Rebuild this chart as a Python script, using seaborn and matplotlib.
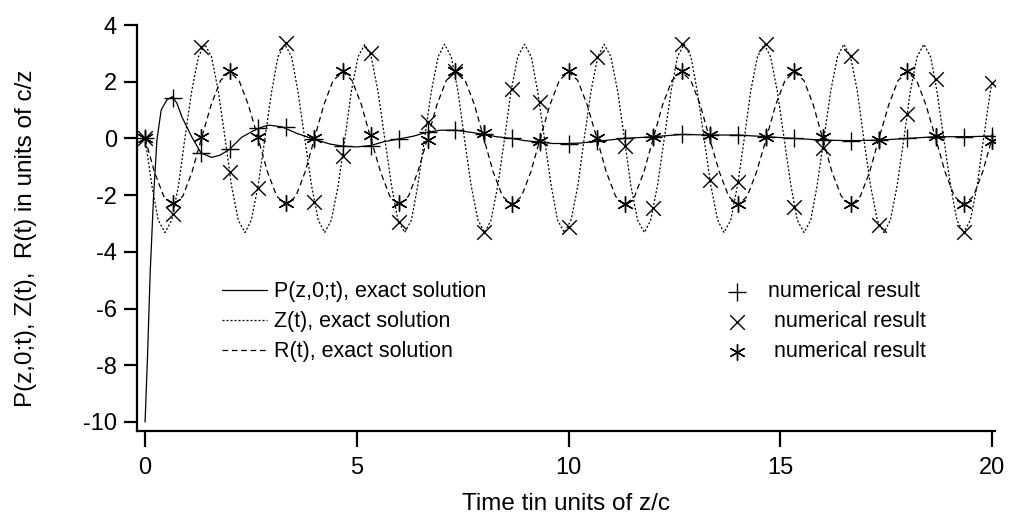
import matplotlib
matplotlib.use("Agg")
import matplotlib.pyplot as plt
import seaborn as sns

# exact P(z,0;t)
P_T = [0.0, 0.06, 0.12, 0.2, 0.28, 0.38, 0.51, 0.64, 0.75, 0.87, 1.1, 1.32, 1.57, 1.77, 1.99,
       2.28, 2.66, 2.91, 3.23, 3.58, 3.97, 4.37, 4.66, 5.0, 5.33, 5.63, 5.99, 6.34, 6.61, 6.97,
       7.33, 7.63, 7.99, 8.3, 8.66, 8.97, 9.34, 9.64, 10.0, 10.31, 10.67, 11.33, 12.0, 12.67,
       13.33, 14.0, 14.67, 15.33, 16.0, 16.67, 17.33, 18.0, 18.67, 19.33, 20.0]
P_V = [-10.0, -7.6, -4.76, -2.06, -0.06, 1.0, 1.35, 1.47, 1.25, 0.76, 0.06, -0.51, -0.67, -0.59, -0.39,
       0.04, 0.35, 0.47, 0.41, 0.18, -0.02, -0.2, -0.27, -0.3, -0.25, -0.12, -0.02, 0.08, 0.2, 0.29,
       0.29, 0.23, 0.15, 0.06, 0.0, -0.08, -0.13, -0.18, -0.18, -0.16, -0.1, 0.0, 0.06, 0.14,
       0.12, 0.12, 0.06, 0.0, -0.06, -0.08, -0.06, 0.0, 0.06, 0.06, 0.08]

# exact Z(t), dotted curve
Z_T = [0.00, 0.16, 0.31, 0.47, 0.63, 0.79, 0.94, 1.10, 1.26, 1.41, 1.57, 1.73,
       1.89, 2.04, 2.20, 2.36, 2.51, 2.67, 2.83, 2.99, 3.14, 3.30, 3.46, 3.61,
       3.77, 3.93, 4.09, 4.24, 4.40, 4.56, 4.72, 4.87, 5.03, 5.19, 5.34, 5.50,
       5.66, 5.82, 5.97, 6.13, 6.29, 6.44, 6.60, 6.76, 6.92, 7.07, 7.23, 7.39,
       7.54, 7.70, 7.86, 8.02, 8.17, 8.33, 8.49, 8.64, 8.80, 8.96, 9.12, 9.27,
       9.43, 9.59, 9.74, 9.90, 10.06, 10.22, 10.37, 10.53, 10.69, 10.84, 11.00, 11.16,
       11.32, 11.47, 11.63, 11.79, 11.94, 12.10, 12.26, 12.42, 12.57, 12.73, 12.89, 13.04,
       13.20, 13.36, 13.52, 13.67, 13.83, 13.99, 14.15, 14.30, 14.46, 14.62, 14.77, 14.93,
       15.09, 15.25, 15.40, 15.56, 15.72, 15.87, 16.03, 16.19, 16.35, 16.50, 16.66, 16.82,
       16.97, 17.13, 17.29, 17.45, 17.60, 17.76, 17.92, 18.07, 18.23, 18.39, 18.55, 18.70,
       18.86, 19.02, 19.17, 19.33, 19.49, 19.65, 19.80, 19.96, 20.00]
Z_V = [0.0, -1.66, -2.88, -3.32, -2.88, -1.66, 0.0, 1.66, 2.88, 3.32, 2.88, 1.66,
       0.0, -1.66, -2.88, -3.32, -2.88, -1.66, 0.0, 1.66, 2.88, 3.32, 2.88, 1.66,
       0.0, -1.66, -2.88, -3.32, -2.88, -1.66, 0.0, 1.66, 2.88, 3.32, 2.88, 1.66,
       0.0, -1.66, -2.88, -3.32, -2.88, -1.66, 0.0, 1.66, 2.88, 3.32, 2.88, 1.66,
       0.0, -1.66, -2.88, -3.32, -2.88, -1.66, 0.0, 1.66, 2.88, 3.32, 2.88, 1.66,
       0.0, -1.66, -2.88, -3.32, -2.88, -1.66, 0.0, 1.66, 2.88, 3.32, 2.88, 1.66,
       0.0, -1.66, -2.88, -3.32, -2.88, -1.66, 0.0, 1.66, 2.88, 3.32, 2.88, 1.66,
       0.0, -1.66, -2.88, -3.32, -2.88, -1.66, 0.0, 1.66, 2.88, 3.32, 2.88, 1.66,
       0.0, -1.66, -2.88, -3.32, -2.88, -1.66, 0.0, 1.66, 2.88, 3.32, 2.88, 1.66,
       0.0, -1.66, -2.88, -3.32, -2.88, -1.66, 0.0, 1.66, 2.88, 3.32, 2.88, 1.66,
       0.0, -1.66, -2.88, -3.32, -2.88, -1.66, 0.0, 1.66, 1.97]

# exact R(t), dashed curve
R_T = [0.00, 0.22, 0.44, 0.67, 0.89, 1.11, 1.33, 1.56, 1.78, 2.00, 2.22, 2.44,
       2.67, 2.89, 3.11, 3.33, 3.56, 3.78, 4.00, 4.22, 4.44, 4.67, 4.89, 5.11,
       5.33, 5.56, 5.78, 6.00, 6.22, 6.44, 6.67, 6.89, 7.11, 7.33, 7.56, 7.78,
       8.00, 8.22, 8.44, 8.67, 8.89, 9.11, 9.33, 9.56, 9.78, 10.00, 10.22, 10.44,
       10.67, 10.89, 11.11, 11.33, 11.56, 11.78, 12.00, 12.22, 12.44, 12.67, 12.89, 13.11,
       13.33, 13.56, 13.78, 14.00, 14.22, 14.44, 14.67, 14.89, 15.11, 15.33, 15.56, 15.78,
       16.00, 16.22, 16.44, 16.67, 16.89, 17.11, 17.33, 17.56, 17.78, 18.00, 18.22, 18.44,
       18.67, 18.89, 19.11, 19.33, 19.56, 19.78, 20.00]
R_V = [0.0, -1.18, -2.04, -2.35, -2.04, -1.18, 0.0, 1.18, 2.04, 2.35, 2.04, 1.18,
       0.0, -1.18, -2.04, -2.35, -2.04, -1.18, 0.0, 1.18, 2.04, 2.35, 2.04, 1.18,
       0.0, -1.18, -2.04, -2.35, -2.04, -1.18, 0.0, 1.18, 2.04, 2.35, 2.04, 1.18,
       0.0, -1.18, -2.04, -2.35, -2.04, -1.18, 0.0, 1.18, 2.04, 2.35, 2.04, 1.18,
       0.0, -1.18, -2.04, -2.35, -2.04, -1.18, 0.0, 1.18, 2.04, 2.35, 2.04, 1.18,
       0.0, -1.18, -2.04, -2.35, -2.04, -1.18, 0.0, 1.18, 2.04, 2.35, 2.04, 1.18,
       0.0, -1.18, -2.04, -2.35, -2.04, -1.18, 0.0, 1.18, 2.04, 2.35, 2.04, 1.18,
       0.0, -1.18, -2.04, -2.35, -2.04, -1.18, 0.0]

# numerical results, sampled every 2/3
NUM_T = [0, 0.67, 1.33, 2, 2.67, 3.33, 4, 4.67, 5.33, 6, 6.67, 7.33, 8, 8.67, 9.33, 10,
         10.67, 11.33, 12, 12.67, 13.33, 14, 14.67, 15.33, 16, 16.67, 17.33, 18, 18.67, 19.33, 20]
NUM_P = [0.0, 1.43, -0.51, -0.39, 0.35, 0.39, -0.02, -0.27, -0.27, -0.02, 0.22, 0.29, 0.15, 0.0,
         -0.13, -0.18, -0.1, 0.0, 0.06, 0.14, 0.12, 0.12, 0.06, 0.0, -0.06, -0.08, -0.06, 0.0,
         0.06, 0.06, 0.08]
NUM_Z = [0.0, -2.65, 3.23, -1.18, -1.76, 3.35, -2.24, -0.62, 3.02, -2.94, 0.59, 2.38, -3.29,
         1.73, 1.29, -3.12, 2.86, -0.27, -2.47, 3.33, -1.45, -1.53, 3.33, -2.41, -0.35, 2.9,
         -3.06, 0.85, 2.08, -3.29, 1.96]
NUM_R = [0.0, -2.29, 0.04, 2.38, 0.06, -2.29, 0.0, 2.38, 0.12, -2.28, -0.06, 2.38, 0.18,
         -2.32, -0.08, 2.38, 0.0, -2.32, 0.06, 2.38, 0.12, -2.32, 0.04, 2.38, 0.06, -2.32,
         -0.06, 2.38, 0.08, -2.32, -0.08]

Y_TICKS = [-10, -8, -6, -4, -2, 0, 2, 4]
X_TICKS = [0, 5, 10, 15, 20]


def _setup() -> None:
    sns.set_theme(style="ticks")
    plt.rcParams["font.family"] = ["Liberation Sans", "DejaVu Sans"]
    plt.rcParams["axes.unicode_minus"] = False
    for key in ("text.color", "axes.labelcolor", "xtick.color", "ytick.color", "axes.edgecolor"):
        plt.rcParams[key] = "black"


def main() -> None:
    _setup()
    fig = plt.figure(figsize=(10.12, 5.21), dpi=100)
    ax = fig.add_axes([0.1354, 0.1727, 0.8478, 0.7793])

    lw = 0.9
    sns.lineplot(x=P_T, y=P_V, ax=ax, color="black", linewidth=lw, estimator=None,
                 sort=False, label="P(z,0;t), exact solution")
    sns.lineplot(x=Z_T, y=Z_V, ax=ax, color="black", linewidth=lw, estimator=None,
                 sort=False, linestyle=(0, (1.6, 1.6)), label="Z(t), exact solution")
    sns.lineplot(x=R_T, y=R_V, ax=ax, color="black", linewidth=lw, estimator=None,
                 sort=False, linestyle=(0, (4.5, 3)), label="R(t), exact solution")

    sns.scatterplot(x=NUM_T, y=NUM_P, ax=ax, marker="+", s=150, color="black",
                    linewidth=1.0, label="numerical result", zorder=3)
    sns.scatterplot(x=NUM_T, y=NUM_Z, ax=ax, marker="x", s=110, color="black",
                    linewidth=1.0, label=" numerical result", zorder=3)
    sns.scatterplot(x=NUM_T, y=NUM_R, ax=ax, marker=(6, 2, 0), s=130, color="black",
                    linewidth=1.0, label=" numerical result", zorder=3)

    ax.set_xlim(-0.19, 20.07)
    ax.set_ylim(-10.32, 4.0)
    ax.set_xticks(X_TICKS)
    ax.set_yticks(Y_TICKS)
    sns.despine(ax=ax)
    for side in ("left", "bottom"):
        ax.spines[side].set_linewidth(1.6)
    ax.tick_params(axis="x", length=11.5, width=1.6, pad=7, labelsize=17, direction="out")
    ax.tick_params(axis="y", length=9.5, width=1.6, pad=5, labelsize=17, direction="out")

    ax.set_xlabel("Time tin units of z/c", fontsize=17.5)
    ax.set_ylabel("P(z,0;t), Z(t),  R(t) in units of c/z", fontsize=17.5)
    ax.xaxis.set_label_coords(0.5, -0.153)
    ax.yaxis.set_label_coords(-0.117, 0.475)

    ax.legend(loc="upper left", bbox_to_anchor=(0.086, 0.395), ncol=2, frameon=False,
              fontsize=15.5, borderpad=0, handlelength=2.1, handletextpad=0.35,
              columnspacing=10.6, labelspacing=0.42, scatterpoints=1)

    fig.savefig("out.png", dpi=100)
    plt.close(fig)


if __name__ == "__main__":
    main()
